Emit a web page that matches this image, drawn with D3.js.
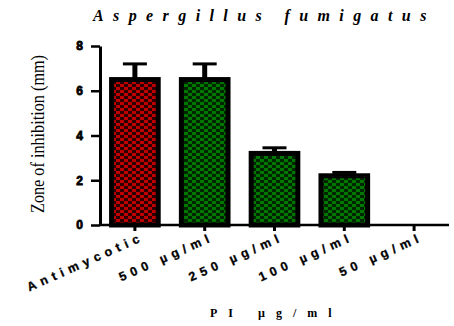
<!DOCTYPE html>
<html>
<head>
<meta charset="utf-8">
<script src="https://cdn.jsdelivr.net/npm/d3@7"></script>
<style>
  body { margin: 0; background: #fff; }
  svg { display: block; }
</style>
</head>
<body>
<svg id="chart" width="454" height="326"></svg>
<script>
// values
const categories = ['Antimycotic', '500 \u00b5g/ml', '250 \u00b5g/ml', '100 \u00b5g/ml', '50 \u00b5g/ml'];
const means = [6.5, 6.5, 3.2, 2.2, 0];
const errors = [0.7, 0.7, 0.25, 0.15, 0];
const fills = ['red', 'green', 'green', 'green', 'green'];
const yTicks = [0, 2, 4, 6, 8];

const width = 454, height = 326;
const margin = { top: 46, right: 5, bottom: 101, left: 100 };
const serif = '"Liberation Serif", "Times New Roman", serif';
const sans = '"Liberation Sans", Arial, sans-serif';

const svg = d3.select('#chart');

// checker patterns like the prism hatch
const defs = svg.append('defs');
const pats = { red: ['#c00000', '#2a0000'], green: ['#007800', '#002400'] };
Object.keys(pats).forEach(k => {
  const p = defs.append('pattern')
    .attr('id', 'pat-' + k)
    .attr('patternUnits', 'userSpaceOnUse')
    .attr('width', 8).attr('height', 6);
  p.append('rect').attr('width', 8).attr('height', 6).attr('fill', pats[k][1]);
  p.append('rect').attr('x', 0).attr('y', 0).attr('width', 4).attr('height', 3).attr('fill', pats[k][0]);
  p.append('rect').attr('x', 4).attr('y', 3).attr('width', 4).attr('height', 3).attr('fill', pats[k][0]);
});

const xScale = d3.scaleBand()
  .domain(categories)
  .range([margin.left, width - margin.right])
  .paddingInner(0.26)
  .paddingOuter(0.13);

const yScale = d3.scaleLinear()
  .domain([0, 8])
  .range([height - margin.bottom, margin.top]);

// bars
svg.append('g')
  .selectAll('rect')
  .data(means)
  .join('rect')
  .attr('x', (d, i) => xScale(categories[i]) + 2.5)
  .attr('y', d => yScale(d))
  .attr('width', xScale.bandwidth() - 5)
  .attr('height', d => yScale(0) - yScale(d))
  .attr('fill', (d, i) => 'url(#pat-' + fills[i] + ')')
  .attr('stroke', '#000')
  .attr('stroke-width', d => d > 0 ? 5 : 0);

// error bars (upper only)
const eb = svg.append('g').attr('stroke', '#000');
means.forEach((m, i) => {
  if (m === 0) return;
  const cx = xScale(categories[i]) + xScale.bandwidth() / 2;
  eb.append('line')
    .attr('x1', cx).attr('x2', cx)
    .attr('y1', yScale(m)).attr('y2', yScale(m + errors[i]))
    .attr('stroke-width', 5);
  eb.append('line')
    .attr('x1', cx - 12).attr('x2', cx + 12)
    .attr('y1', yScale(m + errors[i])).attr('y2', yScale(m + errors[i]))
    .attr('stroke-width', 3);
});

// y axis
const yAxis = svg.append('g')
  .attr('transform', `translate(${margin.left},0)`)
  .call(d3.axisLeft(yScale).tickValues(yTicks).tickSize(9).tickPadding(8).tickSizeOuter(0));
yAxis.select('.domain').attr('stroke-width', 3);
yAxis.selectAll('.tick line').attr('stroke-width', 2.5);
yAxis.selectAll('.tick text')
  .attr('font-family', sans)
  .attr('font-weight', 'bold')
  .attr('font-size', 12)
  .attr('stroke', '#000').attr('stroke-width', 0.8)
  .attr('fill', '#000');

// x axis
const xAxis = svg.append('g')
  .attr('transform', `translate(0,${yScale(0)})`)
  .call(d3.axisBottom(xScale).tickSize(6).tickSizeOuter(0));
xAxis.select('.domain').attr('stroke-width', 2.5).attr('d', `M${margin.left},0H${width - 5}`);
xAxis.selectAll('.tick line').attr('stroke-width', 3);
xAxis.selectAll('.tick text')
  .attr('font-family', sans)
  .attr('font-weight', 'bold')
  .attr('font-size', 12.5)
  .attr('letter-spacing', 5)
  .attr('stroke', '#000').attr('stroke-width', 0.3)
  .attr('fill', '#000')
  .attr('text-anchor', 'end')
  .attr('x', 0).attr('y', 0).attr('dy', 0)
  .attr('transform', 'translate(10,15) rotate(-24)');

// title
svg.append('text')
  .attr('x', 93).attr('y', 21)
  .attr('font-family', serif)
  .attr('font-style', 'italic')
  .attr('font-weight', 'bold')
  .attr('font-size', 16)
  .attr('letter-spacing', 9.4)
  .text('Aspergillus fumigatus');

// y label
svg.append('text')
  .attr('transform', `translate(44,134) rotate(-90)`)
  .attr('text-anchor', 'middle')
  .attr('font-family', serif)
  .attr('font-size', 19)
  .attr('textLength', 158)
  .attr('lengthAdjust', 'spacingAndGlyphs')
  .text('Zone of inhibition (mm)');

// x label
svg.append('text')
  .attr('x', 210).attr('y', 317)
  .attr('font-family', serif)
  .attr('font-weight', 'bold')
  .attr('font-size', 12)
  .attr('letter-spacing', 11)
  .text('PI \u00b5g/ml');
</script>
</body>
</html>
